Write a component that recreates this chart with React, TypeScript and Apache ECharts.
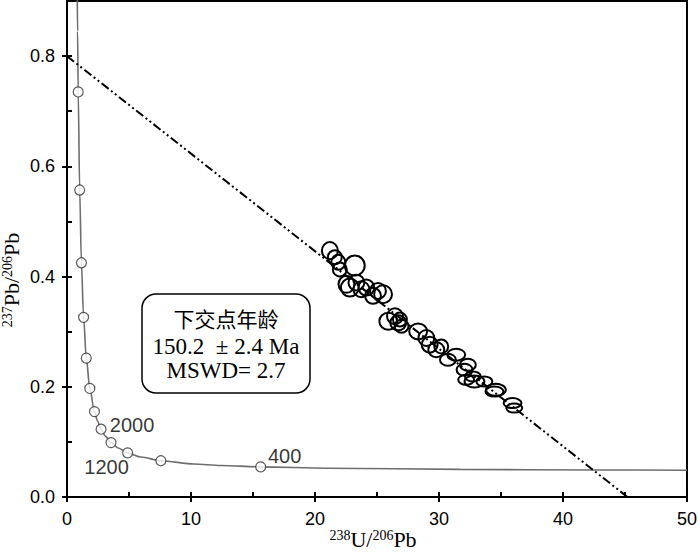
import React, { useEffect, useRef } from "react";
import * as echarts from "echarts";

// Concordia curve (Tera-Wasserburg)
const CONC_X = [0.829, 0.853, 0.904, 1.022, 1.163, 1.337, 1.556, 1.838, 2.217, 2.459, 2.749, 3.104, 3.55, 4.123, 4.888, 5.959, 7.57, 10.25, 12.4, 15.62, 20.99, 31.74, 42.48, 50.0];
const CONC_Y = [0.907, 0.845, 0.735, 0.557, 0.425, 0.326, 0.252, 0.197, 0.155, 0.138, 0.123, 0.11, 0.0987, 0.0888, 0.0801, 0.0725, 0.0658, 0.0599, 0.0572, 0.0547, 0.0523, 0.0501, 0.049, 0.0486];

// Age markers on the concordia (Ma)
const MARK_AGE = [4800, 4400, 4000, 3600, 3200, 2800, 2400, 2000, 1600, 1200, 800, 400];
const MARK_X = [0.904, 1.022, 1.163, 1.337, 1.556, 1.838, 2.217, 2.749, 3.55, 4.888, 7.57, 15.62];
const MARK_Y = [0.735, 0.557, 0.425, 0.326, 0.252, 0.197, 0.155, 0.123, 0.0987, 0.0801, 0.0658, 0.0547];
const LABELED_AGES = [2000, 1200, 400];

// Discordia line end points
const DISC_X = [0, 45.2];
const DISC_Y = [0.8, 0];

// Analyses: centre and half-widths of error ellipses
const ELL_X = [21.2, 21.6, 21.88, 22.0, 23.21, 22.54, 22.81, 23.34, 23.74, 24.14, 24.68, 25.08, 25.49, 25.91, 26.45, 26.71, 26.85, 26.98, 28.32, 28.98, 29.25, 29.78, 30.18, 31.39, 30.72, 32.33, 32.06, 32.73, 32.86, 32.19, 33.66, 34.59, 34.47, 35.93, 36.07];
const ELL_Y = [0.447, 0.435, 0.426, 0.413, 0.42, 0.386, 0.38, 0.389, 0.377, 0.38, 0.365, 0.374, 0.368, 0.319, 0.328, 0.316, 0.322, 0.31, 0.3005, 0.2885, 0.2764, 0.2673, 0.2733, 0.2582, 0.2491, 0.24, 0.2309, 0.2187, 0.2096, 0.2127, 0.2096, 0.1945, 0.1915, 0.1704, 0.1613];
const ELL_SX = [0.64, 0.56, 0.56, 0.56, 0.8, 0.64, 0.72, 0.64, 0.64, 0.64, 0.64, 0.64, 0.72, 0.72, 0.64, 0.64, 0.56, 0.56, 0.72, 0.64, 0.64, 0.64, 0.56, 0.72, 0.64, 0.64, 0.64, 0.64, 0.8, 0.64, 0.64, 0.8, 0.72, 0.72, 0.64];
const ELL_SY = [0.0155, 0.0127, 0.0136, 0.0127, 0.0182, 0.0155, 0.0163, 0.0145, 0.0145, 0.0145, 0.0145, 0.0145, 0.0163, 0.0155, 0.0145, 0.0136, 0.0127, 0.0118, 0.0145, 0.0145, 0.0145, 0.0136, 0.0127, 0.0109, 0.0109, 0.0109, 0.0109, 0.0091, 0.0109, 0.0091, 0.0091, 0.0109, 0.0091, 0.0091, 0.0082];

// Axes
const X_MIN = 0, X_MAX = 50, X_STEP = 10, X_MINOR = 5;
const Y_MIN = 0, Y_MAX = 0.9, Y_MINOR = 0.1;
const Y_TICKS = [0, 0.2, 0.4, 0.6, 0.8];

const BOX_LINES = ["下交点年龄", "150.2  ± 2.4 Ma", "MSWD= 2.7"];

const SANS = "'Liberation Sans', Arial, sans-serif";
const SERIF = "'Liberation Serif', 'Times New Roman', serif";

export default function App() {
  const ref = useRef<HTMLDivElement>(null);
  useEffect(() => {
    if (!ref.current) return;
    const chart = echarts.init(ref.current, undefined, { renderer: "svg" });

    const labelOffsets: Record<number, number[]> = { 2000: [31, -4], 1200: [-21, 14], 400: [24, -11] };

    const markData = MARK_AGE.map((age, i) => {
      const item: any = { value: [MARK_X[i], MARK_Y[i]] };
      if (LABELED_AGES.indexOf(age) >= 0) {
        item.label = {
          show: true,
          formatter: String(age),
          position: "inside",
          offset: labelOffsets[age],
          color: "#000",
          fontSize: 20,
          fontFamily: SANS,
        };
      }
      return item;
    });

    const option: any = {
      animation: false,
      grid: { left: 67, right: 11, top: 1, bottom: 55, show: true, borderColor: "#000", borderWidth: 2, backgroundColor: "transparent" },
      xAxis: [
        {
          type: "value", min: X_MIN, max: X_MAX, interval: X_STEP, position: "bottom",
          axisLine: { onZero: false, lineStyle: { color: "#000", width: 2 } },
          axisTick: { length: 5, lineStyle: { color: "#000", width: 2 } },
          axisLabel: { color: "#000", fontSize: 18, fontFamily: SANS, margin: 13 },
          splitLine: { show: false },
        },
        {
          type: "value", min: X_MIN, max: X_MAX, interval: X_MINOR, position: "bottom",
          axisLine: { show: false },
          axisTick: { inside: true, length: 5, lineStyle: { color: "#000", width: 2 } },
          axisLabel: { show: false },
          splitLine: { show: false },
        },
      ],
      yAxis: [
        {
          type: "value", min: Y_MIN, max: Y_MAX, position: "left",
          axisLine: { onZero: false, lineStyle: { color: "#000", width: 2 } },
          axisTick: { length: 5, customValues: Y_TICKS, lineStyle: { color: "#000", width: 2 } },
          axisLabel: { customValues: Y_TICKS, color: "#000", fontSize: 18, fontFamily: SANS, margin: 12, formatter: (v: number) => v.toFixed(1) },
          splitLine: { show: false },
        },
        {
          type: "value", min: Y_MIN, max: Y_MAX, interval: Y_MINOR, position: "left",
          axisLine: { show: false },
          axisTick: { inside: true, length: 5, lineStyle: { color: "#000", width: 2 } },
          axisLabel: { show: false },
          splitLine: { show: false },
        },
      ],
      series: [
        {
          type: "line",
          data: CONC_X.map((x, i) => [x, CONC_Y[i]]),
          smooth: 0.3,
          smoothMonotone: "x",
          symbol: "none",
          lineStyle: { color: "#6e6e6e", width: 1.6 },
          clip: true,
          z: 2,
        },
        {
          type: "line",
          data: DISC_X.map((x, i) => [x, DISC_Y[i]]),
          symbol: "none",
          lineStyle: { color: "#000", width: 2, type: [9, 3, 2, 3, 2, 3] },
          z: 3,
        },
        {
          type: "custom",
          data: ELL_X.map((x, i) => [x, ELL_Y[i], ELL_SX[i], ELL_SY[i]]),
          renderItem: (params: any, api: any) => {
            const c = api.coord([api.value(0), api.value(1)]);
            const s = api.size([api.value(2), api.value(3)]);
            return {
              type: "ellipse",
              shape: { cx: c[0], cy: c[1], rx: s[0], ry: s[1] },
              style: { fill: "none", stroke: "#000", lineWidth: 2 },
            };
          },
          z: 4,
        },
        {
          type: "scatter",
          data: markData,
          symbol: "circle",
          symbolSize: 10,
          itemStyle: { color: "#fff", borderColor: "#333", borderWidth: 1.2 },
          z: 5,
        },
      ],
      graphic: [
        {
          type: "rect",
          shape: { x: 142, y: 294, width: 168, height: 99, r: 14 },
          style: { fill: "#fff", stroke: "#000", lineWidth: 1.5 },
          z: 10,
        },
        {
          type: "text", x: 226, y: 318, z: 11,
          style: { text: BOX_LINES[0], fontSize: 21, lineHeight: 21, fontFamily: "'Noto Sans CJK SC', sans-serif", fill: "#000", align: "center", verticalAlign: "middle" },
        },
        {
          type: "text", x: 226, y: 346, z: 11,
          style: { text: BOX_LINES[1], fontSize: 23, lineHeight: 23, fontFamily: SERIF, fill: "#000", align: "center", verticalAlign: "middle" },
        },
        {
          type: "text", x: 226, y: 370, z: 11,
          style: { text: BOX_LINES[2], fontSize: 23, lineHeight: 23, fontFamily: SERIF, fill: "#000", align: "center", verticalAlign: "middle" },
        },
        {
          type: "text", x: 373, y: 539, z: 11,
          style: {
            text: "{s|238}{m|U/}{s|206}{m|Pb}",
            align: "center", verticalAlign: "middle", fill: "#000",
            rich: {
              s: { fontSize: 14, fontFamily: SERIF, verticalAlign: "top", lineHeight: 22, fill: "#000" },
              m: { fontSize: 22, fontFamily: SERIF, verticalAlign: "bottom", lineHeight: 22, fill: "#000" },
            },
          },
        },
        {
          type: "text", x: 11, y: 280, rotation: Math.PI / 2, z: 11,
          style: {
            text: "{s|237}{m|Pb/}{s|206}{m|Pb}",
            align: "center", verticalAlign: "middle", fill: "#000",
            rich: {
              s: { fontSize: 14, fontFamily: SERIF, verticalAlign: "top", lineHeight: 22, fill: "#000" },
              m: { fontSize: 22, fontFamily: SERIF, verticalAlign: "bottom", lineHeight: 22, fill: "#000" },
            },
          },
        },
      ],
    };

    chart.setOption(option);
    return () => chart.dispose();
  }, []);

  return <div ref={ref} style={{ width: 700, height: 552, position: "absolute", left: 0, top: 0 }} />;
}
